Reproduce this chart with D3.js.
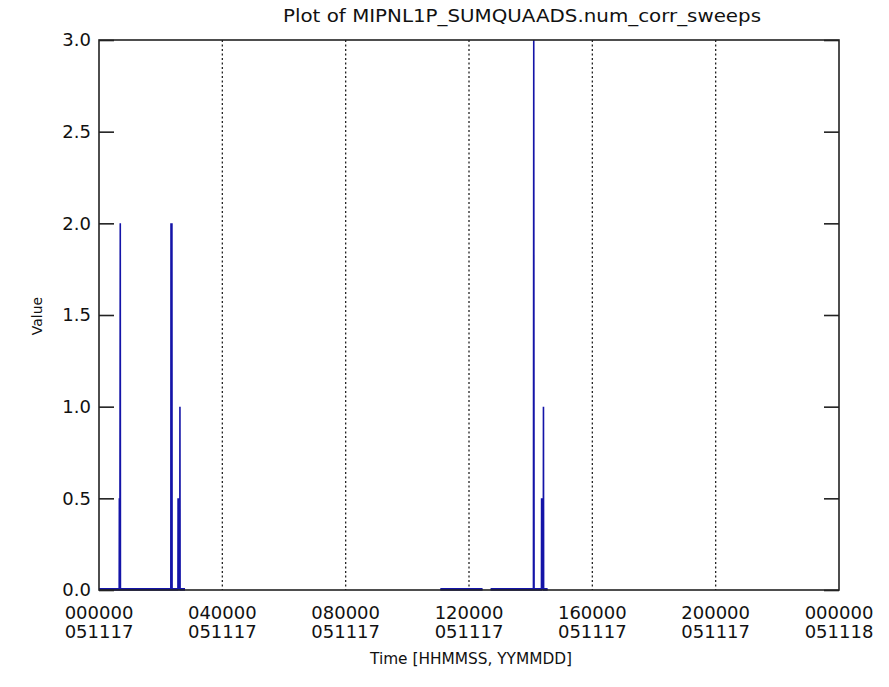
<!DOCTYPE html>
<html>
<head>
<meta charset="utf-8">
<script src="https://cdn.jsdelivr.net/npm/d3@7"></script>
<style>
  html, body { margin: 0; padding: 0; background: #fff; }
  svg { display: block; }
  text { font-family: "DejaVu Sans", sans-serif; fill: #111; }
</style>
</head>
<body>
<svg id="chart" width="889" height="687"></svg>
<script>
// ---- data (time in hours from 2005-11-17 00:00, value) ----
const title = "Plot of MIPNL1P_SUMQUAADS.num_corr_sweeps";
const xLabel = "Time [HHMMSS, YYMMDD]";
const yLabel = "Value";
const xTickHours = [0, 4, 8, 12, 16, 20, 24];
const xTickTime = ["000000", "040000", "080000", "120000", "160000", "200000", "000000"];
const xTickDate = ["051117", "051117", "051117", "051117", "051117", "051117", "051118"];
const yTicks = [0.0, 0.5, 1.0, 1.5, 2.0, 2.5, 3.0];

// three separate data segments (gaps between them)
const seg1Time = [0.00, 0.655, 0.66, 0.665, 0.67, 0.675, 0.68, 0.69, 0.695, 2.33, 2.335, 2.34, 2.345, 2.35, 2.355, 2.36, 2.365, 2.37, 2.375, 2.56, 2.565, 2.57, 2.575, 2.58, 2.585, 2.62, 2.625, 2.63, 2.79];
const seg1Val  = [0,    0,     0.5,  0,     0.5,  0,     0.5,  2.0,  0,     0,    2.0,   0,    2.0,   0,    2.0,   0,    2.0,   0,    0,     0,    0.5,   0,    0.5,   0,    0.5,   0,    1.0,   0,    0];
const seg2Time = [11.07, 12.44];
const seg2Val  = [0, 0];
const seg3Time = [12.70, 14.09, 14.10, 14.11, 14.35, 14.355, 14.36, 14.365, 14.37, 14.375, 14.41, 14.415, 14.42, 14.55];
const seg3Val  = [0,     0,     3.0,   0,     0,     0.5,    0,     0.5,    0,     0.5,    0,     1.0,    0,     0];

const segments = [[seg1Time, seg1Val], [seg2Time, seg2Val], [seg3Time, seg3Val]]
  .map(([t, v]) => t.map((d, i) => ({t: d, v: v[i]})));

// ---- layout ----
const svg = d3.select("#chart");
const L = 99, R = 839, T = 40, B = 590;
const x = d3.scaleLinear().domain([0, 24]).range([L, R]);
const y = d3.scaleLinear().domain([0, 3]).range([B, T]);

// dotted vertical grid lines at interior ticks
svg.append("g").selectAll("line")
  .data(xTickHours.slice(1, -1))
  .join("line")
  .attr("x1", d => x(d)).attr("x2", d => x(d))
  .attr("y1", T).attr("y2", B)
  .attr("stroke", "#222").attr("stroke-width", 1.3)
  .attr("stroke-dasharray", "2,2.5");

// data line
const line = d3.line().x(d => x(d.t)).y(d => y(d.v));
svg.append("g").selectAll("path")
  .data(segments)
  .join("path")
  .attr("d", line)
  .attr("fill", "none")
  .attr("stroke", "#1414a8")
  .attr("stroke-width", 1.6);
// baseline emphasis of data at zero
svg.append("g").selectAll("line")
  .data(segments)
  .join("line")
  .attr("x1", d => x(d[0].t)).attr("x2", d => x(d[d.length - 1].t))
  .attr("y1", y(0) - 1).attr("y2", y(0) - 1)
  .attr("stroke", "#1414a8").attr("stroke-width", 2);

// frame
svg.append("rect")
  .attr("x", L).attr("y", T).attr("width", R - L).attr("height", B - T)
  .attr("fill", "none").attr("stroke", "#222").attr("stroke-width", 1.6);

// left axis (ticks inward) and right axis ticks
const yAxisL = d3.axisLeft(y).tickValues(yTicks).tickSize(-15).tickPadding(8).tickFormat(d3.format(".1f"));
const gL = svg.append("g").attr("transform", `translate(${L},0)`).call(yAxisL);
gL.select(".domain").remove();
gL.selectAll("line").attr("stroke", "#222").attr("stroke-width", 1.6);
gL.selectAll("text").attr("font-size", 18).attr("fill", "#111").attr("font-family", "DejaVu Sans, sans-serif");

const yAxisR = d3.axisRight(y).tickValues(yTicks).tickSize(-15).tickFormat("");
const gR = svg.append("g").attr("transform", `translate(${R},0)`).call(yAxisR);
gR.select(".domain").remove();
gR.selectAll("line").attr("stroke", "#222").attr("stroke-width", 1.6);

// x tick labels (two lines, separate text elements)
svg.append("g").selectAll("text")
  .data(xTickHours)
  .join("text")
  .attr("x", d => x(d))
  .attr("y", 619)
  .attr("text-anchor", "middle")
  .attr("font-size", 18)
  .text((d, i) => xTickTime[i]);
svg.append("g").selectAll("text")
  .data(xTickHours)
  .join("text")
  .attr("x", d => x(d))
  .attr("y", 638)
  .attr("text-anchor", "middle")
  .attr("font-size", 18)
  .text((d, i) => xTickDate[i]);

// title and axis labels
svg.append("text").attr("x", 522).attr("y", 22).attr("text-anchor", "middle")
  .attr("font-size", 18).attr("textLength", 478).attr("lengthAdjust", "spacingAndGlyphs").text(title);
svg.append("text").attr("x", 471).attr("y", 664).attr("text-anchor", "middle")
  .attr("font-size", 16).attr("textLength", 202).attr("lengthAdjust", "spacingAndGlyphs").text(xLabel);
svg.append("text").attr("transform", "translate(42,316) rotate(-90)")
  .attr("text-anchor", "middle").attr("font-size", 14).text(yLabel);
</script>
</body>
</html>
